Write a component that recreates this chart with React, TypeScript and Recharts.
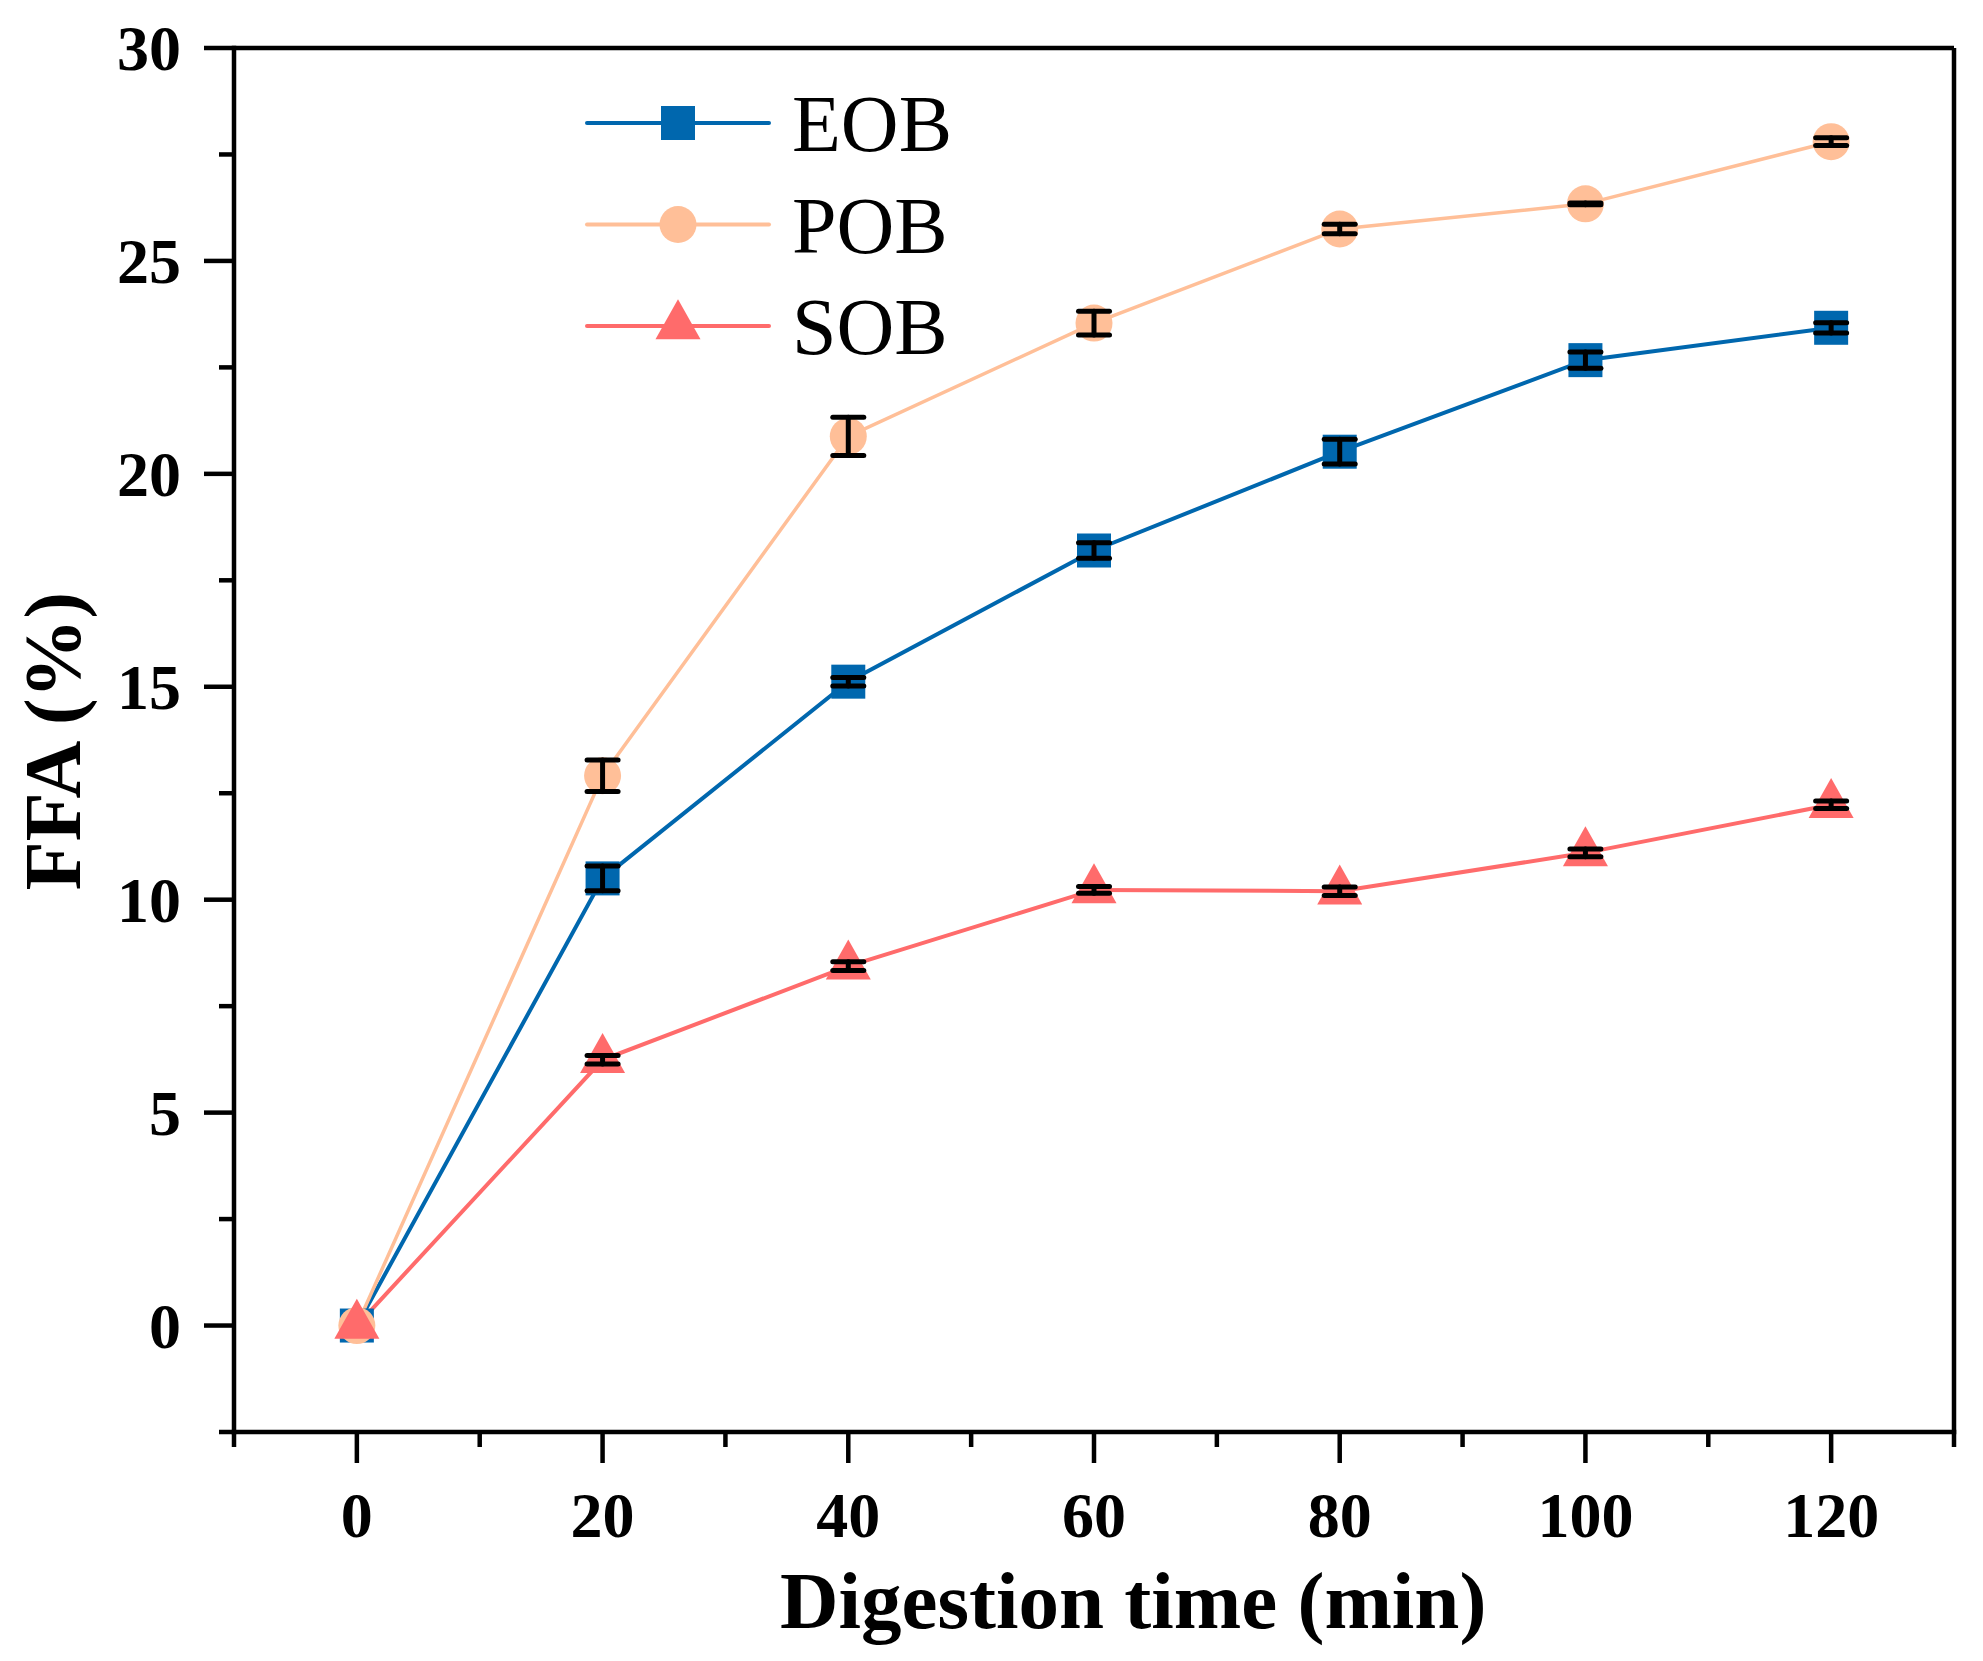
import React from 'react';
import { LineChart, Line, XAxis, YAxis, ErrorBar, Legend, ReferenceLine, Label } from 'recharts';

const times = [0, 20, 40, 60, 80, 100, 120];
const eobValues = [0, 10.5, 15.12, 18.2, 20.52, 22.67, 23.43];
const eobErrors = [0, 0.29, 0.1, 0.18, 0.29, 0.19, 0.12];
const pobValues = [0, 12.91, 20.88, 23.54, 25.75, 26.34, 27.8];
const pobErrors = [0, 0.37, 0.45, 0.28, 0.11, 0.02, 0.09];
const sobValues = [0, 6.24, 8.44, 10.23, 10.2, 11.1, 12.23];
const sobErrors = [0, 0.1, 0.1, 0.08, 0.1, 0.09, 0.09];

const xTicks = [-10, 0, 10, 20, 30, 40, 50, 60, 70, 80, 90, 100, 110, 120, 130];
const yTicks = [-2.5, 0, 2.5, 5, 7.5, 10, 12.5, 15, 17.5, 20, 22.5, 25, 27.5, 30];

const BLUE = '#0067ae';
const PEACH = '#ffbf98';
const RED = '#ff6b6b';
const FONT = '"Liberation Serif", "Times New Roman", serif';
const W = 1983;
const H = 1661;

const data = times.map((t, i) => ({
  time: t,
  eob: eobValues[i],
  eobErr: eobErrors[i],
  pob: pobValues[i],
  pobErr: pobErrors[i],
  sob: sobValues[i],
  sobErr: sobErrors[i],
}));

function Square({ cx, cy, fill }: any) {
  return <rect x={cx - 17} y={cy - 17} width={34} height={34} fill={fill} />;
}
function Circle({ cx, cy, fill }: any) {
  return <circle cx={cx} cy={cy} r={18.5} fill={fill} />;
}
function Triangle({ cx, cy, fill }: any) {
  const pts = `${cx},${cy - 26.7} ${cx - 22.5},${cy + 13.3} ${cx + 22.5},${cy + 13.3}`;
  return <polygon points={pts} fill={fill} />;
}

const markers: Record<string, any> = { eob: Square, pob: Circle, sob: Triangle };

function XTick({ x, y, payload }: any) {
  const v = payload.value;
  const major = v % 20 === 0 && v >= 0 && v <= 120;
  return (
    <g>
      <line x1={x} y1={y} x2={x} y2={y + (major ? 31 : 15)} stroke="#000" strokeWidth={4.5} />
      {major && (
        <text x={x} y={y + 105} textAnchor="middle" fontFamily={FONT} fontWeight="bold" fontSize={64} fill="#000">
          {v}
        </text>
      )}
    </g>
  );
}

function YTick({ x, y, payload }: any) {
  const v = payload.value;
  const major = v % 5 === 0 && v >= 0;
  return (
    <g>
      <line x1={x} y1={y} x2={x - (major ? 30 : 15)} y2={y} stroke="#000" strokeWidth={4.5} />
      {major && (
        <text x={x - 53} y={y + 22} textAnchor="end" fontFamily={FONT} fontWeight="bold" fontSize={64} fill="#000">
          {v}
        </text>
      )}
    </g>
  );
}

function LegendBox({ payload }: any) {
  const items = (payload || []).filter((p: any) => markers[p.dataKey]);
  return (
    <svg width={480} height={360} style={{ display: 'block', overflow: 'visible' }}>
      {items.map((p: any, i: number) => {
        const Marker = markers[p.dataKey];
        const cy = 53 + i * 101.5;
        return (
          <g key={p.dataKey}>
            <line x1={9} y1={cy} x2={191} y2={cy} stroke={p.color} strokeWidth={4} strokeLinecap="round" />
            <Marker cx={100} cy={cy} fill={p.color} />
            <text x={214} y={cy + 28} fontFamily={FONT} fontSize={80} fill="#000">
              {p.value}
            </text>
          </g>
        );
      })}
    </svg>
  );
}

const axisLine = { stroke: '#000', strokeWidth: 4.5, strokeLinecap: 'square' as const };

export default function App() {
  return (
    <div style={{ position: 'absolute', left: 0, top: 0, width: W, height: H, background: '#fff' }}>
      <LineChart width={W} height={H} data={data} margin={{ top: 48, right: 29, bottom: 0, left: 0 }}>
        <XAxis
          dataKey="time"
          type="number"
          domain={[-10, 130]}
          ticks={xTicks}
          interval={0}
          tickSize={0}
          tickMargin={0}
          tickLine={false}
          tick={<XTick />}
          height={229}
          axisLine={axisLine}
        >
          <Label
            content={() => (
              <text x={780} y={1628} textAnchor="start" fontFamily={FONT} fontWeight="bold" fontSize={81} fill="#000">
                Digestion time (min)
              </text>
            )}
          />
        </XAxis>
        <YAxis
          type="number"
          domain={[-2.5, 30]}
          ticks={yTicks}
          interval={0}
          tickSize={0}
          tickMargin={0}
          tickLine={false}
          tick={<YTick />}
          width={234}
          axisLine={axisLine}
        >
          <Label
            content={() => (
              <text
                x={57}
                y={741}
                transform="rotate(-90 57 741)"
                dy={23}
                textAnchor="middle"
                fontFamily={FONT}
                fontWeight="bold"
                fontSize={80}
                fill="#000"
              >
                FFA (%)
              </text>
            )}
          />
        </YAxis>
        <ReferenceLine y={30} stroke="#000" strokeWidth={4.5} />
        <ReferenceLine x={130} stroke="#000" strokeWidth={4.5} />
        <Legend
          layout="vertical"
          align="center"
          verticalAlign="middle"
          content={<LegendBox />}
          wrapperStyle={{ left: 578, top: 70, width: 480 }}
        />
        <Line
          dataKey="eob"
          name="EOB"
          stroke={BLUE}
          strokeWidth={4}
          dot={(p: any) => <Square key={`e${p.index}`} cx={p.cx} cy={p.cy} fill={BLUE} />}
          activeDot={false}
          isAnimationActive={false}
        />
        <Line
          dataKey="pob"
          name="POB"
          stroke={PEACH}
          strokeWidth={3.5}
          dot={(p: any) => <Circle key={`p${p.index}`} cx={p.cx} cy={p.cy} fill={PEACH} />}
          activeDot={false}
          isAnimationActive={false}
        />
        <Line
          dataKey="sob"
          name="SOB"
          stroke={RED}
          strokeWidth={4}
          dot={(p: any) => <Triangle key={`s${p.index}`} cx={p.cx} cy={p.cy} fill={RED} />}
          activeDot={false}
          isAnimationActive={false}
        />
      </LineChart>

      {/* overlay with the same scales so the error bars sit on top of every marker */}
      <div style={{ position: 'absolute', left: 0, top: 0 }}>
        <LineChart width={W} height={H} data={data} margin={{ top: 48, right: 29, bottom: 229, left: 234 }}>
          <XAxis dataKey="time" type="number" domain={[-10, 130]} hide />
          <YAxis type="number" domain={[-2.5, 30]} hide />
          <Line dataKey="eob" stroke="none" dot={false} activeDot={false} isAnimationActive={false}>
            <ErrorBar dataKey="eobErr" width={15.5} strokeWidth={5} stroke="#000" strokeLinecap="round" isAnimationActive={false} />
          </Line>
          <Line dataKey="pob" stroke="none" dot={false} activeDot={false} isAnimationActive={false}>
            <ErrorBar dataKey="pobErr" width={15.5} strokeWidth={5} stroke="#000" strokeLinecap="round" isAnimationActive={false} />
          </Line>
          <Line dataKey="sob" stroke="none" dot={false} activeDot={false} isAnimationActive={false}>
            <ErrorBar dataKey="sobErr" width={15.5} strokeWidth={5} stroke="#000" strokeLinecap="round" isAnimationActive={false} />
          </Line>
        </LineChart>
      </div>
    </div>
  );
}
